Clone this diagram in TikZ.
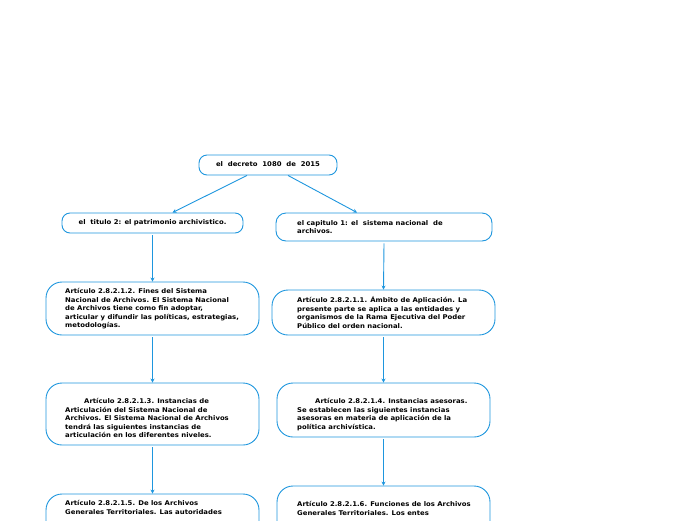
\documentclass[tikz,border=0pt]{standalone}
\usepackage{fontspec}
\setmainfont{DejaVu Sans}[FakeStretch=1.06]
\usetikzlibrary{arrows.meta}
\definecolor{mblue}{RGB}{30,150,222}
\begin{document}
\begin{tikzpicture}[x=1pt,y=-1pt,
  box/.style={draw=mblue, line width=0.9pt, fill=white, inner sep=0pt},
  txt/.style={anchor=north west, inner sep=0pt, align=left, font=\fontsize{6.5}{8.5}\selectfont\bfseries, text=black},
  ctxt/.style={anchor=center, inner sep=0pt, font=\fontsize{6.5}{8.5}\selectfont\bfseries, text=black},
  arr/.style={draw=mblue, line width=0.9pt, -{Stealth[length=4pt,width=4pt]}}]
\useasboundingbox (0,0) rectangle (696,520);
\clip (0,0) rectangle (696,520);
% boxes
\node[box, rounded corners=8pt, minimum width=138pt, minimum height=20pt] (root) at (268,165) {};
\node[box, rounded corners=8pt, minimum width=181pt, minimum height=20pt] (l1) at (152.5,223) {};
\node[box, rounded corners=10pt, minimum width=216pt, minimum height=28pt] (r1) at (384,227) {};
\node[box, rounded corners=16pt, minimum width=213pt, minimum height=53pt] (l2) at (152.5,308.5) {};
\node[box, rounded corners=16pt, minimum width=223pt, minimum height=45pt] (r2) at (383.5,312.5) {};
\node[box, rounded corners=16pt, minimum width=213pt, minimum height=62pt] (l3) at (152.5,414) {};
\node[box, rounded corners=16pt, minimum width=213pt, minimum height=54pt] (r3) at (383.5,410) {};
\node[box, rounded corners=16pt, minimum width=213pt, minimum height=60pt] (l4) at (152.5,524) {};
\node[box, rounded corners=16pt, minimum width=213pt, minimum height=60pt] (r4) at (383.5,516) {};
% texts
\node[ctxt] (troot) at ([yshift=0.5pt]root.center) {el\ \ decreto\ \ 1080\ \ de\ \ 2015};
\node[ctxt] (tl1) at ([yshift=0.5pt]l1.center) {el\ \ titulo 2: el patrimonio archivistico.};
\node[txt] (tr1) at (297,220) {el capitulo 1: el\ \ sistema nacional\ \ de\\archivos.};
\node[txt] (tl2) at (65,288.5) {Artículo 2.8.2.1.2. Fines del Sistema\\Nacional de Archivos. El Sistema Nacional\\de Archivos tiene como fin adoptar,\\articular y difundir las políticas, estrategias,\\metodologías.};
\node[txt] (tr2) at (297,296.5) {Artículo 2.8.2.1.1. Ámbito de Aplicación. La\\presente parte se aplica a las entidades y\\organismos de la Rama Ejecutiva del Poder\\Público del orden nacional.};
\node[txt] (tl3) at (65,398.5) {\hspace*{19pt}Artículo 2.8.2.1.3. Instancias de\\Articulación del Sistema Nacional de\\Archivos. El Sistema Nacional de Archivos\\tendrá las siguientes instancias de\\articulación en los diferentes niveles.};
\node[txt] (tr3) at (297,398.5) {\hspace*{18pt}Artículo 2.8.2.1.4. Instancias asesoras.\\Se establecen las siguientes instancias\\asesoras en materia de aplicación de la\\política archivística.};
\node[txt] (tl4) at (65,500.5) {Artículo 2.8.2.1.5. De los Archivos\\Generales Territoriales. Las autoridades};
\node[txt] (tr4) at (297,501.5) {Artículo 2.8.2.1.6. Funciones de los Archivos\\Generales Territoriales. Los entes};
% connectors
\draw[arr] ([xshift=-21pt]root.south) -- ([xshift=20pt]l1.north);
\draw[arr] ([xshift=20pt]root.south) -- ([xshift=-27pt]r1.north);
\draw[arr] ([yshift=-2pt]l1.south) -- (l2.north);
\draw[arr] ([yshift=-2pt]r1.south) -- (r2.north);
\draw[arr] ([yshift=-2pt]l2.south) -- (l3.north);
\draw[arr] ([yshift=-2pt]r2.south) -- (r3.north);
\draw[arr] ([yshift=-2pt]l3.south) -- (l4.north);
\draw[arr] ([yshift=-2pt]r3.south) -- (r4.north);
\end{tikzpicture}
\end{document}
